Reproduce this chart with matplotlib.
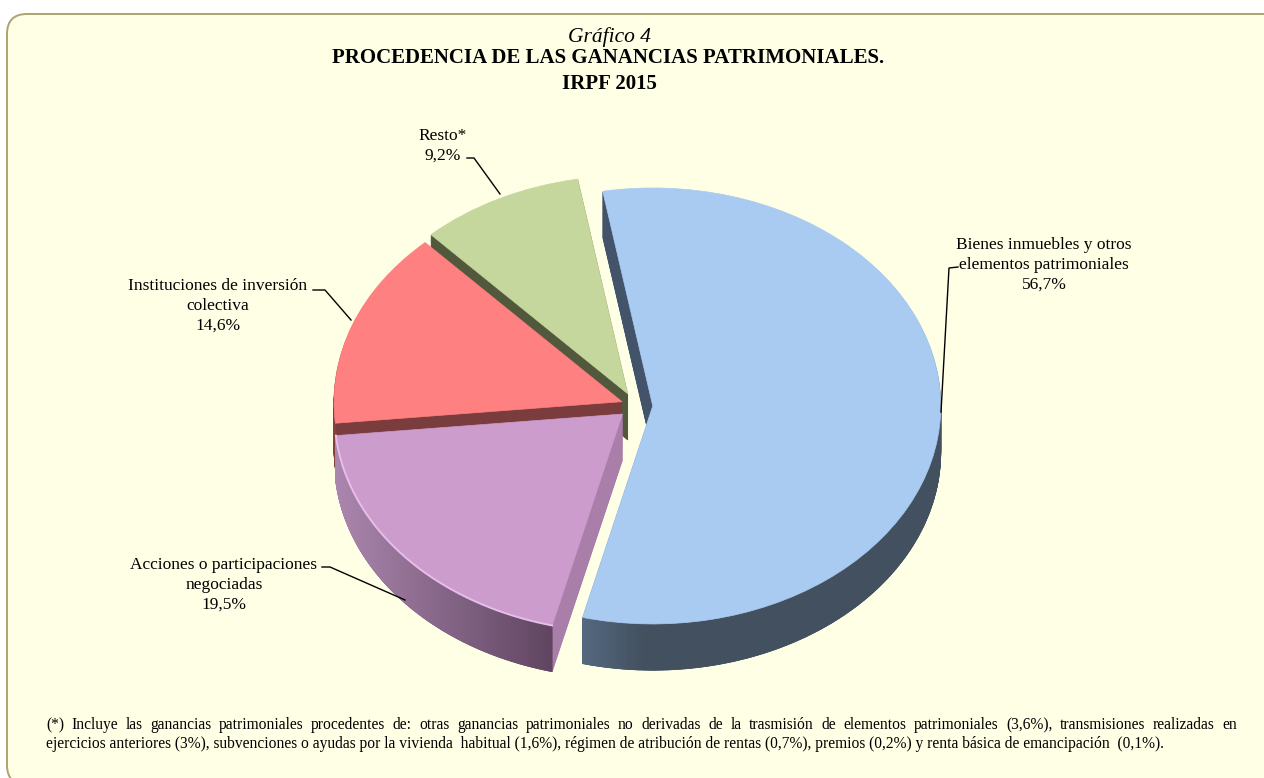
import matplotlib
matplotlib.use("Agg")
import matplotlib.pyplot as plt
import numpy as np
from matplotlib.patches import FancyBboxPatch, Wedge, Polygon
from matplotlib.colors import to_rgb

plt.rcParams["font.family"] = ["Liberation Serif", "DejaVu Serif"]

# datos
categorias = ["Bienes inmuebles y otros\nelementos patrimoniales",
              "Acciones o participaciones\nnegociadas",
              "Instituciones de inversión\ncolectiva",
              "Resto*"]
valores = [56.7, 19.5, 14.6, 9.2]
colores = ["#a9cbf2", "#cc9ccd", "#ff8080", "#c6d79e"]
# color de la cara del corte y del borde (izquierda, derecha)
corte = ["#42536a", "#a97ea8", "#7a3c3c", "#51583c"]
borde = [("#43505f", "#54697f"), ("#5f4560", "#ab86ae"),
         ("#7a3c3c", "#8c4545"), ("#51583c", "#51583c")]
orden = [3, 2, 0, 1]

titulo1 = "Gráfico 4"
titulo2 = "PROCEDENCIA DE LAS GANANCIAS PATRIMONIALES."
titulo3 = "IRPF 2015"
nota1 = ("(*) Incluye las ganancias patrimoniales procedentes de: otras ganancias patrimoniales no derivadas "
         "de la trasmisión de elementos patrimoniales (3,6%), transmisiones realizadas en")
nota2 = ("ejercicios anteriores (3%), subvenciones o ayudas por la vivienda  habitual (1,6%), régimen de "
         "atribución de rentas (0,7%), premios (0,2%) y renta básica de emancipación  (0,1%).")

W, H = 1264, 778
fig = plt.figure(figsize=(W / 100, H / 100), dpi=100, facecolor="white")

# fondo y textos en coordenadas de pixel
bg = fig.add_axes([0, 0, 1, 1], zorder=0)
bg.set_xlim(0, W)
bg.set_ylim(H, 0)
bg.axis("off")
caja = FancyBboxPatch((7, 14), 1280, 771, boxstyle="round,pad=0,rounding_size=20",
                      fc="#ffffe5", ec="#aca36e", lw=1.4)
bg.add_patch(caja)

# tarta aplastada
rx, ry = 288, 218
cx, cy = 635.5, 405.5
lim = 1.35
pie_ax = fig.add_axes([(cx - lim * rx) / W, 1 - (cy + lim * ry) / H, 2 * lim * rx / W, 2 * lim * ry / H], zorder=1)
wedges, _ = pie_ax.pie(valores, colors=colores, startangle=100, counterclock=False,
                       explode=[0.06, 0.06, 0.05, 0.06], radius=1)
pie_ax.set_aspect("auto")
pie_ax.set_xlim(-lim, lim)
pie_ax.set_ylim(-lim, lim)
pie_ax.axis("off")

prof = 0.212
z = 2
for i in orden:
    w = wedges[i]
    t1, t2 = w.theta1, w.theta2
    # cara del corte: copias de la porcion hacia abajo
    for d in np.linspace(prof, 0.005, 40):
        pie_ax.add_patch(Wedge((w.center[0], w.center[1] - d), 1, t1, t2, fc=corte[i], ec=corte[i], lw=0.5, zorder=z))
    # pared exterior con degradado
    angs = np.linspace(t1, t2, 320)
    izq, der = np.array(to_rgb(borde[i][0])), np.array(to_rgb(borde[i][1]))
    xs = w.center[0] + np.cos(np.radians(angs))
    ys = w.center[1] + np.sin(np.radians(angs))
    xn = (xs - xs.min()) / (xs.max() - xs.min())
    for k in range(len(angs) - 1):
        if np.sin(np.radians((angs[k] + angs[k + 1]) / 2)) > 0.02:
            continue
        f = 1 - xn[k] if i == 1 else 1 - min(xn[k] * 6, 1) if i == 0 else 0.5
        col = der * f + izq * (1 - f)
        pie_ax.add_patch(Polygon([(xs[k], ys[k]), (xs[k + 1], ys[k + 1]),
                                  (xs[k + 1], ys[k + 1] - prof), (xs[k], ys[k] - prof)],
                                 fc=col, ec=col, lw=0.5, zorder=z + 0.1))
    w.set_zorder(z + 0.2)
    w.set_edgecolor(colores[i])
    w.set_linewidth(0.5)
    if i == 1:
        pie_ax.plot(xs, ys, color="#e8bdea", lw=1.4, zorder=z + 0.3)
    z += 1

# textos
ov = fig.add_axes([0, 0, 1, 1], zorder=3)
ov.set_xlim(0, W)
ov.set_ylim(H, 0)
ov.axis("off")
ov.patch.set_alpha(0)
ov.text(609, 37, titulo1, ha="center", va="center", fontsize=15.5, style="italic", color="black")
ov.text(608.5, 58, titulo2, ha="center", va="center", fontsize=15, weight="bold", color="black")
ov.text(609, 84, titulo3, ha="center", va="center", fontsize=15, weight="bold", color="black")

pos_etq = [(1044, 265), (224, 585), (218, 306), (443, 146)]
for cat, v, (x, y) in zip(categorias, valores, pos_etq):
    txt = cat + "\n" + f"{v:.1f}".replace(".", ",") + "%"
    ov.text(x, y, txt, ha="center", va="center", fontsize=12.5, linespacing=1.32, color="black")

lineas = [[(941, 412), (949, 268), (958, 267)],
          [(405, 600), (330, 567), (322, 567)],
          [(351, 320), (325, 290), (313, 290)],
          [(500, 194), (474, 158), (467, 158)]]
for ln in lineas:
    ov.plot(*zip(*ln), color="black", lw=1)

# nota al pie, primera linea justificada
fig.canvas.draw()
rend = fig.canvas.get_renderer()
palabras = nota1.split()
objs = [ov.text(0, 725, p, fontsize=11.2, va="center", color="black") for p in palabras]
anchos = [o.get_window_extent(rend).width for o in objs]
hueco = (1237 - 46 - sum(anchos)) / (len(palabras) - 1)
x = 46
for o, a in zip(objs, anchos):
    o.set_x(x)
    x += a + hueco
ov.text(46, 744, nota2, fontsize=11.2, va="center", color="black")

fig.savefig("out.png", dpi=100, facecolor="white")
